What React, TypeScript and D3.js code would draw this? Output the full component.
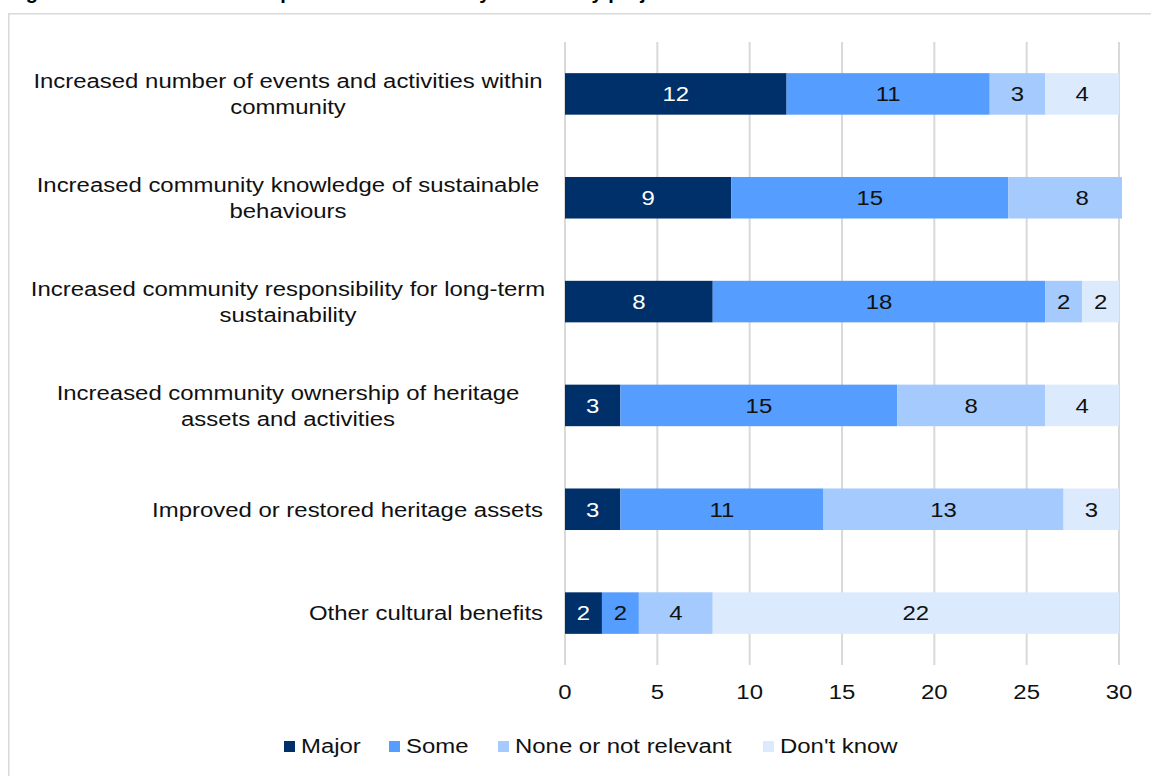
import React from "react";
import * as d3 from "d3";

const categories: string[][] = [
  ["Increased number of events and activities within", "community"],
  ["Increased community knowledge of sustainable", "behaviours"],
  ["Increased community responsibility for long-term", "sustainability"],
  ["Increased community ownership of heritage", "assets and activities"],
  ["Improved or restored heritage assets"],
  ["Other cultural benefits"],
];
const seriesNames = ["Major", "Some", "None or not relevant", "Don't know"];
const major = [12, 9, 8, 3, 3, 2];
const some = [11, 15, 18, 15, 11, 2];
const noneRel = [3, 8, 2, 8, 13, 4];
const dontKnow = [4, 0, 2, 4, 3, 22];
const xTicks = [0, 5, 10, 15, 20, 25, 30];
const colors = ["#00306A", "#559DFE", "#A4CAFE", "#DCEAFE"];
const labelColors = ["#ffffff", "#111111", "#111111", "#111111"];
const title = "Figure 6: Cultural benefits reported as achieved by community projects";

const W = 1151;
const H = 776;
const FONT = "'Liberation Sans', Arial, sans-serif";
const FS = 21;
const SX = 1.14;

function T(props: {
  x: number;
  y: number;
  anchor?: "start" | "middle" | "end";
  fill?: string;
  children: React.ReactNode;
}) {
  const { x, y, anchor = "start", fill = "#111", children } = props;
  return (
    <text
      transform={`translate(${x},${y}) scale(${SX},1)`}
      x={0}
      y={0}
      dy="0.35em"
      textAnchor={anchor}
      fontSize={FS}
      fill={fill}
    >
      {children}
    </text>
  );
}

export default function App() {
  const x = d3.scaleLinear().domain([0, 30]).range([565, 1119]);
  const y = d3
    .scaleBand<number>()
    .domain(d3.range(categories.length))
    .range([42, 665])
    .paddingInner(0.6)
    .paddingOuter(0.3);
  const plotRight = 1122;
  const rows = categories.map((_, i) => [major[i], some[i], noneRel[i], dontKnow[i]]);
  const stack = d3.stack<number[]>().keys(["0", "1", "2", "3"]).value((d, k) => d[+k]);
  const series = stack(rows);
  const legendX = [284, 389, 498, 763];

  return (
    <svg
      width={W}
      height={H}
      style={{ position: "absolute", left: 0, top: 0, background: "#fff" }}
      fontFamily={FONT}
    >
      <defs>
        <clipPath id="plotclip">
          <rect x={565} y={30} width={plotRight - 565} height={650} />
        </clipPath>
      </defs>
      <rect x={0} y={0} width={W} height={H} fill="#fff" />
      <text x={8} y={-1} fontSize={20} fontWeight="bold" fill="#000">
        {title}
      </text>
      <path d={`M8.75,${H} V13.75 H${W}`} fill="none" stroke="#d9d9d9" strokeWidth={1.5} />
      {xTicks.map((t) => (
        <line key={t} x1={x(t)} x2={x(t)} y1={42} y2={665} stroke="#d9d9d9" strokeWidth={2} />
      ))}
      <g clipPath="url(#plotclip)">
        {series.map((s, si) =>
          s.map((d, i) =>
            d[1] - d[0] > 0 ? (
              <rect
                key={`${si}-${i}`}
                x={x(d[0])}
                y={y(i)!}
                width={x(d[1]) - x(d[0])}
                height={y.bandwidth()}
                fill={colors[si]}
              />
            ) : null
          )
        )}
      </g>
      {series.map((s, si) =>
        s.map((d, i) =>
          d[1] - d[0] > 0 ? (
            <T
              key={`l${si}-${i}`}
              x={(x(d[0]) + x(d[1])) / 2}
              y={y(i)! + y.bandwidth() / 2}
              anchor="middle"
              fill={labelColors[si]}
            >
              {d[1] - d[0]}
            </T>
          ) : null
        )
      )}
      {categories.map((lines, i) => {
        const cy = y(i)! + y.bandwidth() / 2;
        const lh = 26;
        const start = cy - ((lines.length - 1) * lh) / 2;
        return (
          <g key={`c${i}`}>
            {lines.map((ln, j) => (
              <T
                key={j}
                x={lines.length > 1 ? 288 : 543}
                y={start + j * lh}
                anchor={lines.length > 1 ? "middle" : "end"}
              >
                {ln}
              </T>
            ))}
          </g>
        );
      })}
      {xTicks.map((t) => (
        <T key={`t${t}`} x={x(t)} y={692} anchor="middle">
          {t}
        </T>
      ))}
      {seriesNames.map((n, i) => (
        <g key={n}>
          <rect x={legendX[i]} y={741} width={11} height={11} fill={colors[i]} />
          <T x={legendX[i] + 17} y={746}>
            {n}
          </T>
        </g>
      ))}
    </svg>
  );
}
